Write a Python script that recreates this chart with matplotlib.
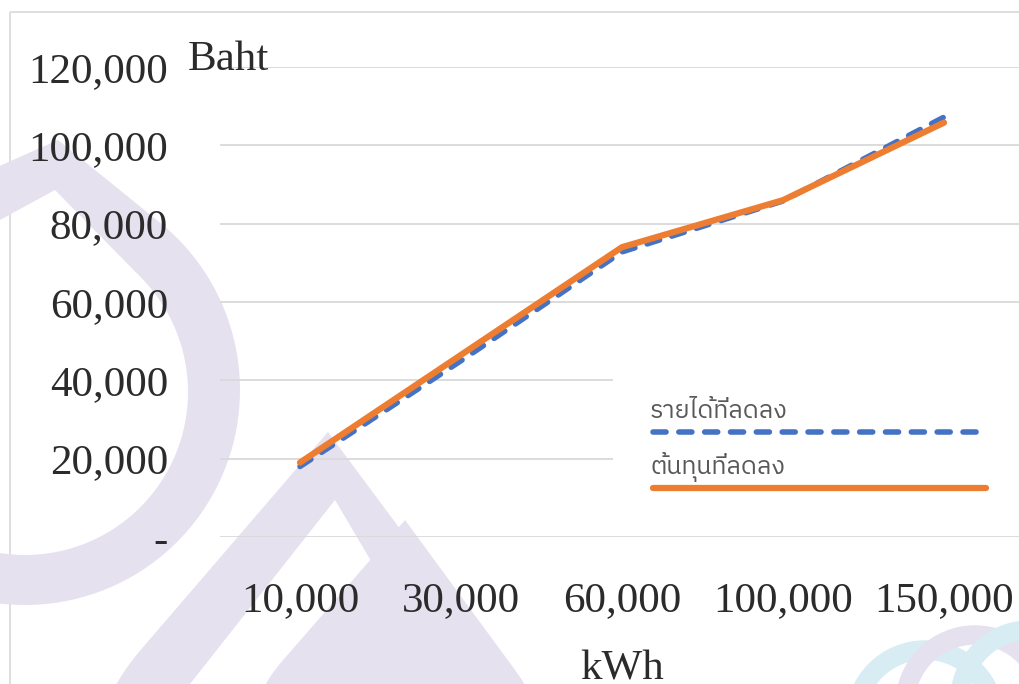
import matplotlib
matplotlib.use("Agg")
import numpy as np
import matplotlib.pyplot as plt
from matplotlib import font_manager
from matplotlib.ft2font import FT2Font
from matplotlib.lines import Line2D
from matplotlib.path import Path
from matplotlib.patches import PathPatch, Rectangle, Circle

# energy saved per year (kWh) and the money it is worth (Baht)
categories = ["10,000", "30,000", "60,000", "100,000", "150,000"]
revenue_lost = [18000, 45000, 72800, 85800, 107200]   # รายได้ที่ลดลง
cost_saved = [19000, 46500, 74000, 86000, 105800]     # ต้นทุนที่ลดลง
series_names = ["รายได้ที่ลดลง", "ต้นทุนที่ลดลง"]
y_ticks = [0, 20000, 40000, 60000, 80000, 100000, 120000]
y_ticklabels = ["-", "20,000", "40,000", "60,000", "80,000", "100,000", "120,000"]

BLUE = "#4472C4"
ORANGE = "#ED7D31"
GRID = "#d9d9d9"
TEXT = "#2b2b2b"
WM = "#e6e1ef"
WM_BLUE = "#d8ecf4"

plt.rcParams["lines.scale_dashes"] = False
SERIF = "Liberation Serif"


def thai_family():
    # pick any installed face that actually has Thai glyphs
    found = []
    for f in font_manager.fontManager.ttflist:
        try:
            cmap = FT2Font(f.fname).get_charmap()
        except Exception:
            continue
        if 0x0E23 in cmap and 0x0E49 in cmap:
            found.append(f.name)
    if not found:
        return ["DejaVu Sans"]
    found.sort(key=lambda n: (0 if "Sans" in n else 1, n))
    return [found[0], "DejaVu Sans"]


def teardrop(tip, center, r, n=120):
    # outline of a drop: two tangents from the tip wrapped round a circle
    tx, ty = tip
    cx, cy = center
    d = np.hypot(tx - cx, ty - cy)
    base = np.arctan2(ty - cy, tx - cx)
    a = np.arccos(r / d)
    t = np.linspace(base + a, base + 2 * np.pi - a, n)
    pts = np.column_stack([cx + r * np.cos(t), cy + r * np.sin(t)])
    return np.vstack([[tip], pts, [tip]])


def ring(outer, inner):
    verts = np.vstack([outer, inner[::-1]])
    codes = ([Path.MOVETO] + [Path.LINETO] * (len(outer) - 2) + [Path.CLOSEPOLY]
             + [Path.MOVETO] + [Path.LINETO] * (len(inner) - 2) + [Path.CLOSEPOLY])
    return Path(verts, codes)


fig = plt.figure(figsize=(10.19, 6.84), dpi=100)

# background layer in pixel units: frame and faint watermark
bg = fig.add_axes([0, 0, 1, 1], zorder=0)
bg.set_xlim(0, 1019)
bg.set_ylim(684, 0)
bg.axis("off")
bg.add_patch(Rectangle((10, 12), 1100, 800, fill=False, ec=GRID, lw=1.2))

left_drop = ring(teardrop((58, 140), (25, 390), 215), teardrop((55, 190), (25, 392), 163))
bg.add_patch(PathPatch(left_drop, fc=WM, ec="none"))
mid_drop = ring(teardrop((328, 432), (315, 800), 230), teardrop((335, 500), (315, 800), 170))
bg.add_patch(PathPatch(mid_drop, fc=WM, ec="none"))
inner_drop = Path(teardrop((405, 520), (395, 760), 150))
bg.add_patch(PathPatch(inner_drop, fc=WM, ec="none"))
for (cx, cy, col) in [(925, 720, WM_BLUE), (975, 705, WM), (1030, 700, WM_BLUE)]:
    bg.add_patch(Circle((cx, cy), 70, fc="none", ec=col, lw=14))

# main plot area
ax = fig.add_axes([219.5 / 1019, 147 / 684, 805 / 1019, 470 / 684], zorder=1)
ax.set_facecolor("none")
x = np.arange(len(categories))
ax.plot(x, revenue_lost, color=BLUE, lw=4, dashes=(9.4, 9.2),
        dash_capstyle="round", solid_capstyle="round", zorder=3)
ax.plot(x, cost_saved, color=ORANGE, lw=4.5, solid_capstyle="round", zorder=4)

ax.set_xlim(-0.5, len(categories) - 0.5)
ax.set_ylim(0, 120000)
ax.set_xticks(x)
ax.set_xticklabels(categories, fontfamily=SERIF, fontsize=31, color=TEXT)
ax.set_yticks(y_ticks)
ax.set_yticklabels(y_ticklabels, fontfamily=SERIF, fontsize=31, color=TEXT)
ax.tick_params(axis="x", length=0, pad=32)
ax.tick_params(axis="y", length=0, pad=37)
ax.yaxis.grid(True, color=GRID, lw=1.3)
ax.set_axisbelow(True)
for s in ax.spines.values():
    s.set_visible(False)

fig.text(188 / 1019, 1 - 70 / 684, "Baht", fontfamily=SERIF, fontsize=31,
         color=TEXT, va="baseline", ha="left")
fig.text(622 / 1019, 1 - 680 / 684, "kWh", fontfamily=SERIF, fontsize=31,
         color=TEXT, va="baseline", ha="center")

# legend: name above its line sample, on a white box
thai = thai_family()
lg = fig.add_axes([613 / 1019, 1 - 515 / 684, 406 / 1019, 150 / 684], zorder=2)
lg.set_xlim(0, 406)
lg.set_ylim(150, 0)
lg.set_facecolor("white")
lg.set_xticks([])
lg.set_yticks([])
for s in lg.spines.values():
    s.set_visible(False)
lg.text(37, 53, series_names[0], family=thai, fontsize=18, color="#595959", va="baseline")
lg.text(37, 109, series_names[1], family=thai, fontsize=18, color="#595959", va="baseline")
lg.add_line(Line2D([40, 370], [67, 67], color=BLUE, lw=4, dashes=(9.4, 9.2),
                   dash_capstyle="round"))
lg.add_line(Line2D([40, 373], [123, 123], color=ORANGE, lw=4.5, solid_capstyle="round"))

fig.savefig("out.png", dpi=100)
